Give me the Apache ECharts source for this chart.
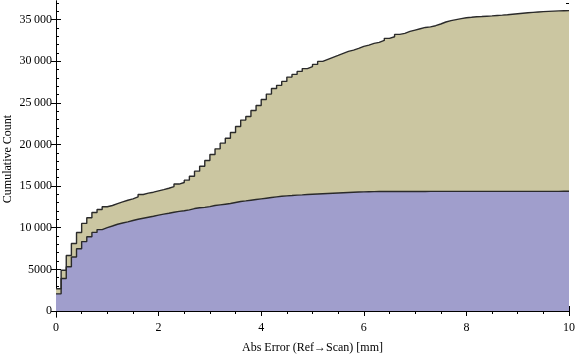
<!DOCTYPE html>
<html lang="en">
  <head>
    <meta charset="UTF-8" />
    <title>Cumulative Count</title>
    <script src="https://cdn.jsdelivr.net/npm/echarts@6.0.0/dist/echarts.min.js"></script>
    <style>
      html,
      body {
        margin: 0;
        padding: 0;
        background: #fff;
      }
      #app {
        width: 576px;
        height: 357px;
      }
    </style>
  </head>
  <body>
    <div id="app"></div>
    <script>
      // histogram bins, 0.1 mm wide, cumulative counts
      const binWidth = 0.1;

      const allCounts = [
        2680, 4890, 6660, 8100, 9420, 10520, 11200, 11820, 12180, 12520,
        12670, 12900, 13100, 13300, 13460, 13700, 13990, 14150, 14265, 14425,
        14580, 14740, 14940, 15240, 15430, 15710, 16180, 16790, 17385, 18070,
        18795, 19470, 20155, 20750, 21440, 22150, 22920, 23355, 24080, 24675,
        25400, 26045, 26720, 27090, 27565, 28085, 28410, 28770, 29105, 29345,
        29605, 29970, 30210, 30450, 30685, 30925, 31165, 31330, 31530, 31770,
        31930, 32125, 32245, 32485, 32735, 32930, 33210, 33330, 33565, 33725,
        33885, 34045, 34115, 34255, 34460, 34700, 34860, 34980, 35100, 35215,
        35265, 35325, 35355, 35395, 35435, 35485, 35525, 35575, 35635, 35695,
        35755, 35810, 35860, 35900, 35940, 35980, 36010, 36030, 36050, 36070,
      ];

      const subsetCounts = [
        2060, 3895, 5315, 6490, 7470, 8335, 8910, 9440, 9775, 10015,
        10210, 10420, 10570, 10700, 10860, 11015, 11135, 11255, 11375, 11505,
        11625, 11740, 11860, 11960, 12040, 12140, 12300, 12390, 12445, 12535,
        12665, 12745, 12825, 12905, 13025, 13145, 13220, 13300, 13380, 13460,
        13540, 13620, 13700, 13770, 13820, 13860, 13910, 13945, 13985, 14025,
        14055, 14085, 14115, 14145, 14175, 14205, 14235, 14265, 14285, 14305,
        14320, 14330, 14340, 14345, 14347, 14349, 14351, 14352, 14353, 14354,
        14355, 14356, 14357, 14358, 14359, 14360, 14360, 14361, 14361, 14362,
        14362, 14363, 14363, 14364, 14364, 14364, 14365, 14365, 14365, 14366,
        14366, 14366, 14367, 14367, 14367, 14368, 14368, 14368, 14369, 14369,
      ];

      const yMajorTicks = [0, 5000, 10000, 15000, 20000, 25000, 30000, 35000];
      const yMinorTicks = [
        0, 1000, 2000, 3000, 4000, 5000, 6000, 7000, 8000, 9000, 10000,
        11000, 12000, 13000, 14000, 15000, 16000, 17000, 18000, 19000, 20000,
        21000, 22000, 23000, 24000, 25000, 26000, 27000, 28000, 29000, 30000,
        31000, 32000, 33000, 34000, 35000, 36000, 37000,
      ];

      const xName = "Abs Error (Ref\u2192Scan) [mm]";
      const yName = "Cumulative Count";

      // step "end": every point holds its value until the next bin edge
      function toSteps(counts) {
        const pts = counts.map((v, i) => [+(i * binWidth).toFixed(1), v]);
        pts.push([+(counts.length * binWidth).toFixed(1), counts[counts.length - 1]]);
        return pts;
      }

      function tickLabel(v) {
        const s = String(v);
        return v >= 10000 ? s.slice(0, -3) + "\u2009" + s.slice(-3) : s;
      }

      const font = {
        fontFamily: "Liberation Serif",
        fontSize: 12,
        color: "#000",
      };
      const black = { color: "#000", width: 1 };
      const yMin = -720;
      const yMax = 37220;
      const gridBox = {
        left: 56,
        right: 7,
        top: 1,
        bottom: 40,
        containLabel: false,
        outerBoundsMode: "none",
      };

      const chart = echarts.init(document.getElementById("app"), null, {
        renderer: "canvas",
      });

      const xBase = {
        type: "value",
        min: 0,
        max: 10,
        interval: 2,
        gridIndex: 0,
        splitLine: { show: false },
        axisLine: { show: true, lineStyle: black },
        axisTick: { show: true, inside: true, length: 5, lineStyle: black },
        minorTick: {
          show: true,
          splitNumber: 4,
          length: 3,
          lineStyle: black,
        },
      };

      const yBase = {
        type: "value",
        min: yMin,
        max: yMax,
        gridIndex: 0,
        splitLine: { show: false },
        axisLine: { show: true, lineStyle: black },
        axisTick: {
          show: true,
          inside: true,
          length: 5,
          lineStyle: black,
          customValues: yMajorTicks,
        },
        axisLabel: { show: false },
      };

      const yMinor = {
        type: "value",
        min: yMin,
        max: yMax,
        gridIndex: 1,
        splitLine: { show: false },
        axisLine: { show: false },
        axisLabel: { show: false },
        axisTick: {
          show: true,
          inside: true,
          length: 3,
          lineStyle: black,
          customValues: yMinorTicks,
        },
      };

      const option = {
        animation: false,
        backgroundColor: "#fff",
        grid: [Object.assign({}, gridBox), Object.assign({}, gridBox)],
        xAxis: [
          Object.assign({}, xBase, {
            position: "bottom",
            name: xName,
            nameLocation: "middle",
            nameGap: 25,
            nameMoveOverlap: false,
            nameTextStyle: font,
            axisLabel: Object.assign({ margin: 5 }, font),
          }),
          Object.assign({}, xBase, {
            position: "top",
            axisLabel: { show: false },
          }),
          {
            type: "value",
            min: 0,
            max: 10,
            gridIndex: 1,
            show: false,
          },
        ],
        yAxis: [
          Object.assign({}, yBase, {
            position: "left",
            name: yName,
            nameLocation: "middle",
            nameGap: 42,
            nameMoveOverlap: false,
            nameTextStyle: font,
            axisLabel: Object.assign(
              {
                show: true,
                margin: 4,
                customValues: yMajorTicks,
                formatter: tickLabel,
              },
              font
            ),
          }),
          Object.assign({}, yBase, { position: "right" }),
          Object.assign({}, yMinor, { position: "left" }),
          Object.assign({}, yMinor, { position: "right" }),
        ],
        series: [
          {
            name: "all",
            type: "line",
            step: "end",
            xAxisIndex: 0,
            yAxisIndex: 0,
            symbol: "none",
            data: toSteps(allCounts),
            lineStyle: { color: "#2a2a2a", width: 1.4 },
            areaStyle: { color: "#cbc6a1", opacity: 1 },
          },
          {
            name: "subset",
            type: "line",
            step: "end",
            xAxisIndex: 0,
            yAxisIndex: 0,
            symbol: "none",
            data: toSteps(subsetCounts),
            lineStyle: { color: "#2a2a2a", width: 1.4 },
            areaStyle: { color: "#a09ecc", opacity: 1 },
          },
        ],
      };

      chart.setOption(option);
    </script>
  </body>
</html>
